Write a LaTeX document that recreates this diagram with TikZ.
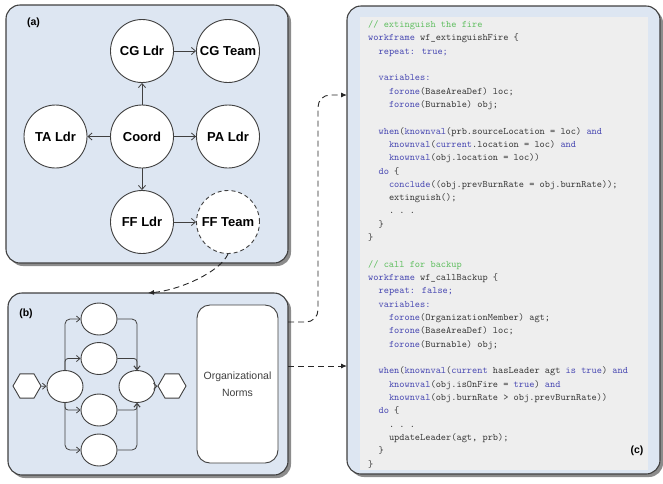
\documentclass[tikz,border=0pt]{standalone}
\usepackage{fontspec}
\setmainfont{Liberation Sans}
\usetikzlibrary{shapes.geometric,arrows.meta,shadows}
\definecolor{panelfill}{RGB}{221,230,242}
\definecolor{codebgc}{RGB}{238,238,238}
\definecolor{edgec}{RGB}{64,64,64}
\definecolor{kwc}{RGB}{72,72,178}
\definecolor{cmc}{RGB}{95,190,95}
\definecolor{txc}{RGB}{55,55,55}
\newcommand{\kwd}[1]{\textcolor{kwc}{#1}}
\newcommand{\cmt}[1]{\textcolor{cmc}{#1}}
\tikzset{
  panel/.style={draw=edgec, line width=1.1pt, fill=panelfill, rounded corners=14pt, inner sep=0pt,
    drop shadow={shadow xshift=3pt, shadow yshift=-3pt, fill=black!45, opacity=1}},
  role/.style={circle, draw=edgec, line width=0.9pt, fill=white, minimum size=63pt, inner sep=0pt,
    font=\fontsize{13}{15}\selectfont\bfseries, text=black},
  rel/.style={draw=edgec, line width=0.8pt, -{Straight Barb[length=4pt,width=7pt]}},
  link/.style={draw=black!85, line width=0.9pt, dash pattern=on 6pt off 4pt, -{Latex[length=6pt,width=5pt]}},
  wfnode/.style={ellipse, draw=edgec, line width=0.9pt, fill=white, minimum width=36pt, minimum height=32pt, inner sep=0pt},
  hexnode/.style={regular polygon, regular polygon sides=6, draw=edgec, line width=0.9pt, fill=white, minimum size=28pt, inner sep=0pt},
  flow/.style={draw=edgec, line width=0.8pt, -{Straight Barb[length=3.5pt,width=6pt]}},
  codeln/.style={anchor=base west, inner sep=0pt, text=txc, font=\ttfamily\fontsize{9.9}{11}\selectfont},
  plabel/.style={font=\fontsize{10.5}{12}\selectfont\bfseries, inner sep=0pt}
}
\begin{document}
\begin{tikzpicture}[x=1pt, y=-1pt]
\useasboundingbox (0,0) rectangle (663,483);
% panels
\node[panel, minimum width=282pt, minimum height=258pt] (pa) at (147,134) {};
\node[panel, minimum width=280pt, minimum height=182pt] (pb) at (148,384) {};
\node[panel, minimum width=313pt, minimum height=468pt] (pc) at (503.5,240) {};
\node[fill=codebgc, minimum width=288pt, minimum height=453pt, inner sep=0pt] (codebg) at (504,243.5) {};
\node[plabel] (la) at (33.5,22.5) {(a)};
\node[plabel] (lb) at (26,314) {(b)};
\node[plabel] (lc) at (637,451) {(c)};
% panel (a)
\node[role] (cgl) at (142,51) {CG Ldr};
\node[role] (cgt) at (228,51) {CG Team};
\node[role] (tal) at (55.5,136.5) {TA Ldr};
\node[role] (crd) at (142,136.5) {Coord};
\node[role] (pal) at (228,136.5) {PA Ldr};
\node[role] (ffl) at (142,222) {FF Ldr};
\node[role, dash pattern=on 4pt off 3pt] (fft) at (228,222) {FF Team};
\draw[rel] (cgl) -- (cgt);
\draw[rel] (crd) -- (cgl);
\draw[rel] (crd) -- (tal);
\draw[rel] (crd) -- (pal);
\draw[rel] (crd) -- (ffl);
\draw[rel] (ffl) -- (fft);
% panel (b)
\node[hexnode] (hl) at (27,386) {};
\node[hexnode] (hr) at (172,386) {};
\node[wfnode] (el) at (65,386.5) {};
\node[wfnode] (er) at (137,386.5) {};
\node[wfnode] (e1) at (99,319) {};
\node[wfnode] (e2) at (99,358.5) {};
\node[wfnode] (e3) at (99,410) {};
\node[wfnode] (e4) at (99,450) {};
\draw[flow] (hl) -- (el);
\draw[flow] (er) -- (hr);
\draw[flow, rounded corners=5pt] (el.north) |- (e1.west);
\draw[flow, rounded corners=3pt] (el.north) |- (e2.west);
\draw[flow, rounded corners=3pt] (el.south) |- (e3.west);
\draw[flow, rounded corners=5pt] (el.south) |- (e4.west);
\draw[flow, rounded corners=5pt] (e1.east) -| (er.north);
\draw[flow, rounded corners=3pt] (e2.east) -| (er.north);
\draw[flow, rounded corners=3pt] (e3.east) -| (er.south);
\draw[flow, rounded corners=5pt] (e4.east) -| (er.south);
\node[draw=edgec, line width=0.9pt, fill=white, rounded corners=13pt, minimum width=81pt, minimum height=158pt,
  align=center, text=black!75, font=\fontsize{10.5}{17}\selectfont] (norms) at (237.5,384) {Organizational\\Norms};
% dashed links
\coordinate (btop) at (148,293);
\coordinate (bout1) at (288,322);
\coordinate (bout2) at (288,366);
\coordinate (cin1) at (347,95);
\coordinate (cin2) at (347,366);
\draw[link] (fft.south) .. controls (220,272) and (180,290) .. (btop);
\draw[link, rounded corners=12pt] (bout1) -- (318,322) -- (318,95) -- (cin1);
\draw[link] (bout2) -- (cin2);
% code
\node[codeln] (c0) at (368,27.5) {\cmt{// extinguish the fire}};
\node[codeln] (c1) at (368,40.82) {\kwd{workframe} wf\_extinguishFire \{};
\node[codeln] (c2) at (378.4,54.14) {\kwd{repeat: true;}};
\node[codeln] (c4) at (378.4,80.78) {\kwd{variables:}};
\node[codeln] (c5) at (388.8,94.10) {\kwd{forone}(BaseAreaDef) loc;};
\node[codeln] (c6) at (388.8,107.42) {\kwd{forone}(Burnable) obj;};
\node[codeln] (c8) at (378.4,134.06) {\kwd{when}(\kwd{knownval}(prb.sourceLocation = loc) \kwd{and}};
\node[codeln] (c9) at (388.8,147.38) {\kwd{knownval}(\kwd{current}.location = loc) \kwd{and}};
\node[codeln] (c10) at (388.8,160.70) {\kwd{knownval}(obj.location = loc))};
\node[codeln] (c11) at (378.4,174.02) {\kwd{do} \{};
\node[codeln] (c12) at (388.8,187.34) {\kwd{conclude}((obj.prevBurnRate = obj.burnRate));};
\node[codeln] (c13) at (388.8,200.66) {extinguish();};
\node[codeln] (c14) at (388.8,213.98) {.\ .\ .};
\node[codeln] (c15) at (378.4,227.30) {\}};
\node[codeln] (c16) at (368,240.62) {\}};
\node[codeln] (c18) at (368,267.26) {\cmt{// call for backup}};
\node[codeln] (c19) at (368,280.58) {\kwd{workframe} wf\_callBackup \{};
\node[codeln] (c20) at (378.4,293.90) {\kwd{repeat: false;}};
\node[codeln] (c21) at (378.4,307.22) {\kwd{variables:}};
\node[codeln] (c22) at (388.8,320.54) {\kwd{forone}(OrganizationMember) agt;};
\node[codeln] (c23) at (388.8,333.86) {\kwd{forone}(BaseAreaDef) loc;};
\node[codeln] (c24) at (388.8,347.18) {\kwd{forone}(Burnable) obj;};
\node[codeln] (c26) at (378.4,373.82) {\kwd{when}(\kwd{knownval}(\kwd{current} hasLeader agt \kwd{is true}) \kwd{and}};
\node[codeln] (c27) at (388.8,387.14) {\kwd{knownval}(obj.isOnFire = \kwd{true}) \kwd{and}};
\node[codeln] (c28) at (388.8,400.46) {\kwd{knownval}(obj.burnRate > obj.prevBurnRate))};
\node[codeln] (c29) at (378.4,413.78) {\kwd{do} \{};
\node[codeln] (c30) at (388.8,427.10) {.\ .\ .};
\node[codeln] (c31) at (388.8,440.42) {updateLeader(agt, prb);};
\node[codeln] (c32) at (378.4,453.74) {\}};
\node[codeln] (c33) at (368,467.06) {\}};
\end{tikzpicture}
\end{document}
